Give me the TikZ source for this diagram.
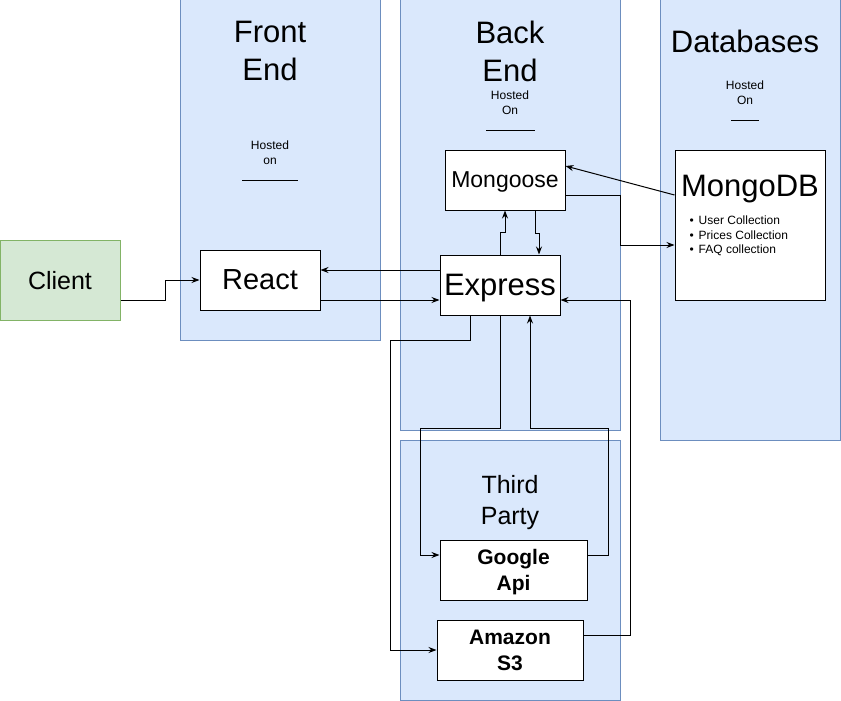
\documentclass[tikz,border=0pt]{standalone}
\usepackage{fontspec}
\setmainfont{Liberation Sans}
\usetikzlibrary{arrows.meta,positioning,calc}

\definecolor{panelfill}{HTML}{DAE8FC}
\definecolor{panelline}{HTML}{6C8EBF}
\definecolor{clientfill}{HTML}{D5E8D4}
\definecolor{clientline}{HTML}{82B366}

\begin{document}
\begin{tikzpicture}[x=1pt, y=-1pt, line width=1pt, >={Stealth[length=8pt,width=6pt]},
  panel/.style={draw=panelline, fill=panelfill, inner sep=0pt},
  box/.style={draw=black, fill=white, inner sep=0pt, text depth=0pt},
  heading/.style={align=center, font=\fontsize{31}{38}\selectfont},
  hosted/.style={align=center, font=\fontsize{12}{15}\selectfont},
  party/.style={box, align=center, font=\bfseries\fontsize{21}{26}\selectfont}]
  \useasboundingbox (0,0) rectangle (841,701);

  % panels
  \node[panel, minimum width=200, minimum height=340] (frontpanel) at (280,170) {};
  \node[panel, minimum width=220, minimum height=430] (backpanel) at (510,215) {};
  \node[panel, minimum width=180, minimum height=440] (dbpanel) at (750,220) {};
  \node[panel, minimum width=220, minimum height=260] (thirdpanel) at (510,570) {};

  % headings
  \node[heading] (fronttitle) at (270,51) {Front\\End};
  \node[heading] (backtitle) at (510,51) {Back\\End};
  \node[heading] (dbtitle) at (745,41) {Databases};
  \node[align=center, font=\fontsize{25}{31}\selectfont] (thirdtitle) at (510,503) {Third\\Party};

  \node[hosted] (fronthosted) at (270,153) {Hosted\\on};
  \node[hosted] (backhosted) at (510,103) {Hosted\\On};
  \node[hosted] (dbhosted) at (745,93) {Hosted\\On};
  \draw (242,180) -- (298,180);
  \draw (486,130) -- (535,130);
  \draw (731,120) -- (759,120);

  % nodes
  \node[draw=clientline, fill=clientfill, minimum width=120, minimum height=80, text depth=0pt,
    font=\fontsize{25}{30}\selectfont] (client) at (60,280) {Client};
  \node[box, minimum width=120, minimum height=60, font=\fontsize{29}{34}\selectfont] (react) at (260,280) {React};
  \node[box, minimum width=120, minimum height=60, font=\fontsize{23}{28}\selectfont] (mongoose) at (505,180) {Mongoose};
  \node[box, minimum width=120, minimum height=60, font=\fontsize{31}{36}\selectfont] (express) at (500,285) {Express};
  \node[box, minimum width=150, minimum height=150] (mongodb) at (750,225) {};
  \node[font=\fontsize{31}{36}\selectfont, text depth=0pt] (mongotitle) at (750,186) {MongoDB};
  \node[anchor=west, inner sep=0pt, align=left, font=\fontsize{12}{14.5}\selectfont] (mongolist) at (689,236)
    {\textbullet\hspace{5pt}User Collection\\\textbullet\hspace{5pt}Prices Collection\\\textbullet\hspace{5pt}FAQ collection};
  \node[party, minimum width=147, minimum height=60] (google) at (513.5,570) {Google\\Api};
  \node[party, minimum width=146, minimum height=60] (amazon) at (510,650) {Amazon\\S3};

  % connectors
  \draw[->] ([yshift=-20pt]client.east) -- ++(45,0) |- (react.west);
  \draw[->] ([yshift=15pt]express.west) -- ([yshift=10pt]react.east);
  \draw[->] ([yshift=-20pt]react.east) -- ([yshift=-15pt]express.west);
  \draw[->] (express.north) -- ++(0,-22) -| (mongoose.south);
  \draw[->] ([xshift=30pt]mongoose.south) -- ++(0,23) -| ([xshift=39pt]express.north);
  \draw[->] ([yshift=30pt]mongodb.west) -- ([yshift=14pt]mongoose.east);
  \draw[->] ([yshift=-15pt]mongoose.east) -- ++(55,0) |- ([yshift=-20pt]mongodb.west);
  \draw[->] ([xshift=-30pt]express.south) -- ++(0,25) -- ++(-80,0) |- (amazon.west);
  \draw[->] (express.south) -- ++(0,113) -- ++(-80,0) |- ([yshift=15pt]google.west);
  \draw[->] ([yshift=15pt]google.east) -- ++(21,0) -- ++(0,-127) -| ([xshift=30pt]express.south);
  \draw[->] ([yshift=15pt]amazon.east) -- ++(47,0) |- ([yshift=-15pt]express.east);
\end{tikzpicture}
\end{document}
